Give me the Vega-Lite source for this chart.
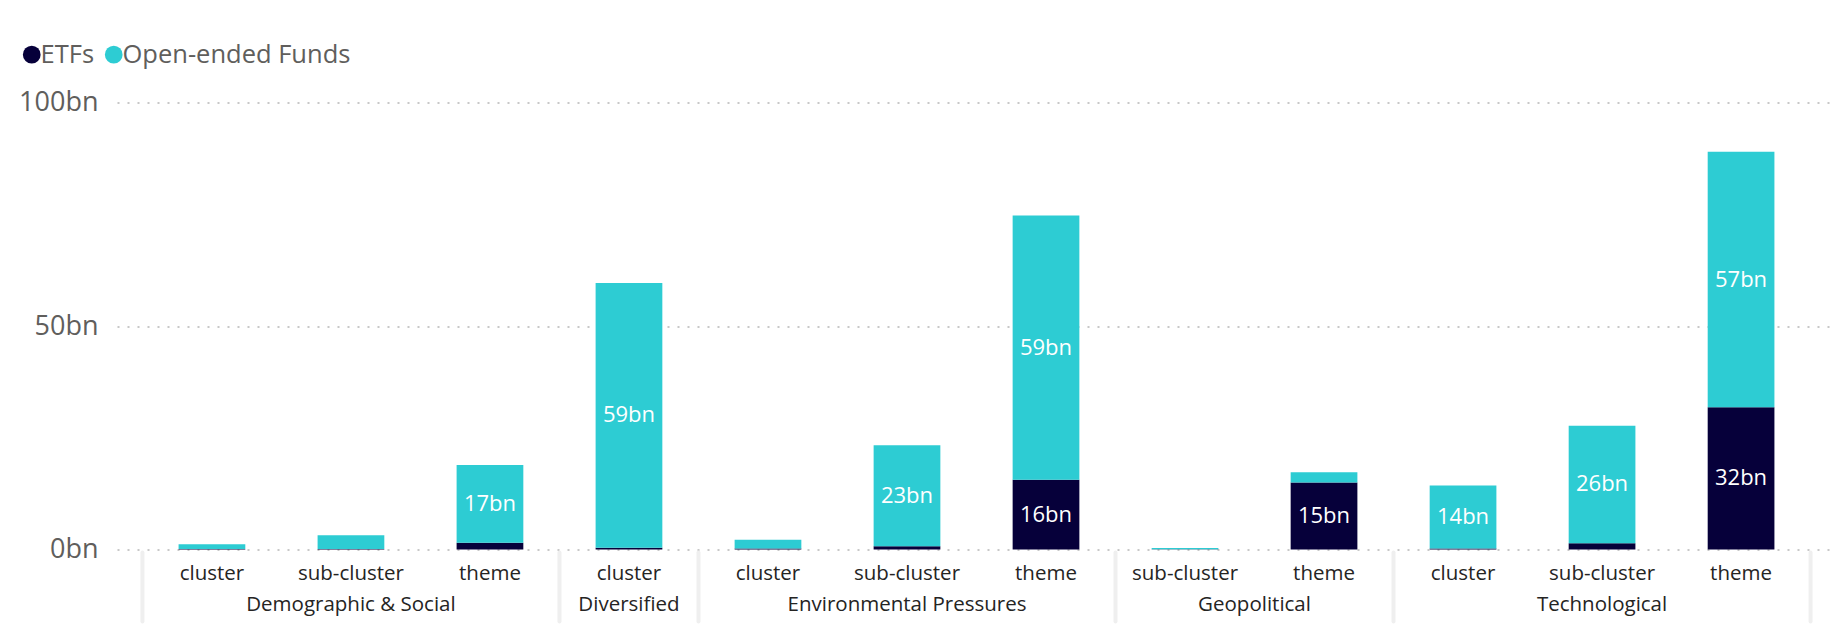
{
  "$schema": "https://vega.github.io/schema/vega-lite/v6.json",
  "width": 1719,
  "height": 447,
  "autosize": {"type": "none"},
  "padding": {"left": 117, "top": 102.5, "right": 10, "bottom": 87.5},
  "background": "white",
  "config": {"font": "Open Sans", "view": {"stroke": null}},
  "datasets": {
    "funds": [
      {"key": "Demographic & Social|cluster", "type": "ETFs", "value": 0.1},
      {"key": "Demographic & Social|cluster", "type": "Open-ended Funds", "value": 1.1},
      {"key": "Demographic & Social|sub-cluster", "type": "ETFs", "value": 0.1},
      {"key": "Demographic & Social|sub-cluster", "type": "Open-ended Funds", "value": 3.1},
      {"key": "Demographic & Social|theme", "type": "ETFs", "value": 1.5},
      {"key": "Demographic & Social|theme", "type": "Open-ended Funds", "value": 17.4},
      {"key": "Diversified|cluster", "type": "ETFs", "value": 0.4},
      {"key": "Diversified|cluster", "type": "Open-ended Funds", "value": 59.2},
      {"key": "Environmental Pressures|cluster", "type": "ETFs", "value": 0.2},
      {"key": "Environmental Pressures|cluster", "type": "Open-ended Funds", "value": 2.0},
      {"key": "Environmental Pressures|sub-cluster", "type": "ETFs", "value": 0.7},
      {"key": "Environmental Pressures|sub-cluster", "type": "Open-ended Funds", "value": 22.6},
      {"key": "Environmental Pressures|theme", "type": "ETFs", "value": 15.6},
      {"key": "Environmental Pressures|theme", "type": "Open-ended Funds", "value": 59.1},
      {"key": "Geopolitical|sub-cluster", "type": "ETFs", "value": 0.05},
      {"key": "Geopolitical|sub-cluster", "type": "Open-ended Funds", "value": 0.3},
      {"key": "Geopolitical|theme", "type": "ETFs", "value": 15.0},
      {"key": "Geopolitical|theme", "type": "Open-ended Funds", "value": 2.3},
      {"key": "Technological|cluster", "type": "ETFs", "value": 0.2},
      {"key": "Technological|cluster", "type": "Open-ended Funds", "value": 14.1},
      {"key": "Technological|sub-cluster", "type": "ETFs", "value": 1.4},
      {"key": "Technological|sub-cluster", "type": "Open-ended Funds", "value": 26.3},
      {"key": "Technological|theme", "type": "ETFs", "value": 31.8},
      {"key": "Technological|theme", "type": "Open-ended Funds", "value": 57.2}
    ],
    "groups": [
      {"group": "Demographic & Social", "mid": 1.5},
      {"group": "Diversified", "mid": 3.5},
      {"group": "Environmental Pressures", "mid": 5.5},
      {"group": "Geopolitical", "mid": 8},
      {"group": "Technological", "mid": 10.5}
    ],
    "bounds": [{"b": 0}, {"b": 3}, {"b": 4}, {"b": 7}, {"b": 9}, {"b": 12}]
  },
  "layer": [
    {
      "data": {"name": "funds"},
      "layer": [
        {
          "mark": {"type": "bar"},
          "encoding": {
            "x": {
              "field": "key", "type": "nominal", "sort": null,
              "scale": {"paddingInner": 0.52, "paddingOuter": 0.443},
              "axis": {
                "title": null, "labelExpr": "split(datum.label, '|')[1]",
                "labelFontSize": 20.5, "labelColor": "#252423", "labelPadding": 29.5,
                "labelBaseline": "alphabetic", "labelAngle": 0, "labelOverlap": false,
                "ticks": false, "domain": false, "grid": false
              }
            },
            "y": {
              "field": "value", "type": "quantitative", "stack": "zero",
              "scale": {"domain": [0, 100], "nice": false},
              "axis": {
                "title": null, "values": [0, 50, 100], "labelExpr": "datum.value + 'bn'",
                "labelFontSize": 27, "labelColor": "#605E5C", "labelPadding": 19,
                "ticks": false, "domain": false, "grid": true,
                "gridColor": "#C8C8C8", "gridDash": [2, 8], "gridWidth": 2
              }
            },
            "color": {
              "field": "type", "type": "nominal",
              "scale": {"domain": ["ETFs", "Open-ended Funds"], "range": ["#06003A", "#2DCCD3"]},
              "legend": {
                "title": null, "orient": "none", "legendX": -98, "legendY": -61,
                "direction": "horizontal", "symbolType": "circle", "symbolSize": 314,
                "symbolStrokeWidth": 0, "labelFontSize": 25.5, "labelColor": "#605E5C",
                "labelOffset": -4, "columnPadding": 6, "padding": 0, "labelLimit": 500
              }
            },
            "order": {"field": "type", "sort": "ascending"}
          }
        },
        {
          "transform": [
            {"stack": "value", "groupby": ["key"], "sort": [{"field": "type"}], "as": ["v0", "v1"]},
            {"calculate": "(datum.v0 + datum.v1) / 2", "as": "mid"},
            {"calculate": "datum.value >= 10 ? format(datum.value, '.0f') + 'bn' : ''", "as": "lbl"}
          ],
          "mark": {"type": "text", "color": "white", "fontSize": 22, "baseline": "middle", "align": "center"},
          "encoding": {
            "x": {"field": "key", "type": "nominal", "sort": null},
            "y": {"field": "mid", "type": "quantitative"},
            "text": {"field": "lbl"}
          }
        }
      ]
    },
    {
      "layer": [
        {
          "data": {"name": "bounds"},
          "mark": {"type": "rule", "color": "#EFEFEF", "strokeWidth": 4, "strokeCap": "round", "yOffset": 3, "y2Offset": 72},
          "encoding": {
            "x": {"field": "b", "type": "quantitative", "scale": {"domain": [-0.183, 12.183], "nice": false, "zero": false}, "axis": null},
            "y": {"datum": 0, "type": "quantitative"},
            "y2": {"datum": 0}
          }
        },
        {
          "data": {"name": "groups"},
          "mark": {"type": "text", "baseline": "alphabetic", "dy": 61, "fontSize": 20.5, "color": "#252423"},
          "encoding": {
            "x": {"field": "mid", "type": "quantitative", "axis": null},
            "y": {"datum": 0, "type": "quantitative"},
            "text": {"field": "group"}
          }
        }
      ]
    }
  ],
  "resolve": {"scale": {"x": "independent"}}
}
